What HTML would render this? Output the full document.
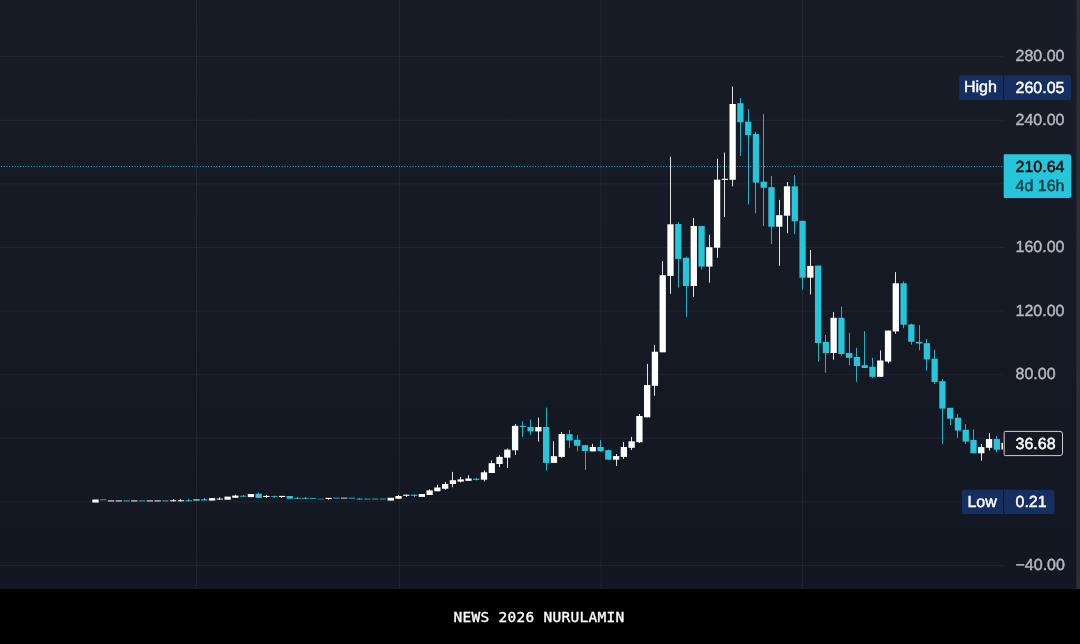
<!DOCTYPE html>
<html><head><meta charset="utf-8"><title>chart</title>
<style>
html,body{margin:0;padding:0;background:#171b26;}
body{width:1080px;height:644px;overflow:hidden;position:relative;font-family:"Liberation Sans",sans-serif;}
svg{position:absolute;left:0;top:0;display:block}
text{font-family:"Liberation Sans",sans-serif;font-size:16px;text-rendering:geometricPrecision;stroke-width:0.45px;stroke-linejoin:round}
.ax{fill:#b4b7c0;stroke:#b4b7c0}
.wh{fill:#ffffff;stroke:#ffffff}
.bar{position:absolute;left:0;top:589px;width:1080px;height:55px;background:#000;}
.cap{position:absolute;left:-1px;top:607px;width:1080px;text-align:center;color:#fff;font-family:"DejaVu Sans Mono","Liberation Mono",monospace;font-size:14.5px;line-height:20px;white-space:pre;letter-spacing:0.27px;-webkit-text-stroke:0.35px #fff;}
</style></head><body>
<svg width="1080" height="589" viewBox="0 0 1080 589">
<defs><linearGradient id="bgg" x1="0" y1="0" x2="0" y2="1"><stop offset="0" stop-color="#181c27"/><stop offset="1" stop-color="#131722"/></linearGradient>
<clipPath id="cp"><rect x="0" y="0" width="1002.9" height="589"/></clipPath></defs>
<rect x="0" y="0" width="1080" height="589" fill="url(#bgg)"/>
<rect x="0" y="56.10" width="1003.5" height="1" fill="rgba(240,243,250,0.06)"/><rect x="0" y="119.71" width="1003.5" height="1" fill="rgba(240,243,250,0.06)"/><rect x="0" y="183.32" width="1003.5" height="1" fill="rgba(240,243,250,0.06)"/><rect x="0" y="246.93" width="1003.5" height="1" fill="rgba(240,243,250,0.06)"/><rect x="0" y="310.54" width="1003.5" height="1" fill="rgba(240,243,250,0.06)"/><rect x="0" y="374.15" width="1003.5" height="1" fill="rgba(240,243,250,0.06)"/><rect x="0" y="437.76" width="1003.5" height="1" fill="rgba(240,243,250,0.06)"/><rect x="0" y="501.37" width="1003.5" height="1" fill="rgba(240,243,250,0.06)"/><rect x="0" y="564.98" width="1003.5" height="1" fill="rgba(240,243,250,0.06)"/><rect x="196.00" y="0" width="1" height="589" fill="rgba(240,243,250,0.06)"/><rect x="398.95" y="0" width="1" height="589" fill="rgba(240,243,250,0.06)"/><rect x="600.35" y="0" width="1" height="589" fill="rgba(240,243,250,0.06)"/><rect x="802.00" y="0" width="1" height="589" fill="rgba(240,243,250,0.06)"/>
<g clip-path="url(#cp)">
<line x1="1.05" y1="166.56" x2="1002.4" y2="166.56" stroke="#27bed2" stroke-width="1" stroke-dasharray="0.95 1.775"/>
<rect x="92.35" y="499.50" width="6.3" height="3.00" fill="#ffffff"/>
<rect x="100.12" y="499.00" width="6.3" height="1.40" fill="#26c6da" fill-opacity="0.6"/>
<rect x="107.89" y="500.20" width="6.3" height="1.40" fill="#ffffff" fill-opacity="0.7"/>
<rect x="115.66" y="500.20" width="6.3" height="1.40" fill="#ffffff" fill-opacity="0.7"/>
<rect x="123.43" y="500.20" width="6.3" height="1.40" fill="#26c6da" fill-opacity="0.65"/>
<rect x="131.20" y="500.20" width="6.3" height="1.40" fill="#ffffff" fill-opacity="0.7"/>
<rect x="138.97" y="500.20" width="6.3" height="1.40" fill="#26c6da" fill-opacity="0.65"/>
<rect x="146.74" y="500.20" width="6.3" height="1.40" fill="#ffffff" fill-opacity="0.7"/>
<rect x="154.51" y="500.20" width="6.3" height="1.40" fill="#ffffff" fill-opacity="0.7"/>
<rect x="162.28" y="500.20" width="6.3" height="1.40" fill="#26c6da" fill-opacity="0.65"/>
<rect x="173" y="499.20" width="1.0" height="2.20" fill="#ffffff" fill-opacity="0.88"/>
<rect x="170.05" y="500.00" width="6.3" height="1.40" fill="#ffffff" fill-opacity="0.72"/>
<rect x="180" y="499.20" width="1.0" height="2.20" fill="#ffffff" fill-opacity="0.88"/>
<rect x="177.82" y="500.00" width="6.3" height="1.40" fill="#ffffff" fill-opacity="0.72"/>
<rect x="188" y="498.80" width="1.0" height="2.60" fill="#26c6da" fill-opacity="0.88"/>
<rect x="185.59" y="500.00" width="6.3" height="1.40" fill="#26c6da" fill-opacity="0.7"/>
<rect x="193.36" y="499.20" width="6.3" height="1.50" fill="#ffffff" fill-opacity="0.7"/>
<rect x="204" y="498.00" width="1.0" height="2.60" fill="#26c6da" fill-opacity="0.88"/>
<rect x="201.13" y="499.00" width="6.3" height="1.60" fill="#26c6da" fill-opacity="0.75"/>
<rect x="208.90" y="498.10" width="6.3" height="2.50" fill="#ffffff"/>
<rect x="219" y="497.50" width="1.0" height="2.50" fill="#ffffff" fill-opacity="0.88"/>
<rect x="216.67" y="498.40" width="6.3" height="1.30" fill="#ffffff" fill-opacity="0.72"/>
<rect x="224.44" y="496.60" width="6.3" height="3.15" fill="#ffffff"/>
<rect x="235" y="494.75" width="1.0" height="3.00" fill="#ffffff" fill-opacity="0.88"/>
<rect x="232.21" y="495.60" width="6.3" height="2.15" fill="#ffffff"/>
<rect x="243" y="495.00" width="1.0" height="1.80" fill="#26c6da" fill-opacity="0.88"/>
<rect x="239.98" y="495.70" width="6.3" height="1.10" fill="#26c6da" fill-opacity="0.8"/>
<rect x="247.75" y="494.00" width="6.3" height="3.10" fill="#ffffff"/>
<rect x="258" y="492.50" width="1.0" height="5.40" fill="#26c6da" fill-opacity="0.88"/>
<rect x="255.52" y="493.75" width="6.3" height="4.15" fill="#26c6da"/>
<rect x="266" y="495.00" width="1.0" height="3.00" fill="#ffffff" fill-opacity="0.88"/>
<rect x="263.29" y="495.90" width="6.3" height="1.10" fill="#ffffff"/>
<rect x="274" y="495.90" width="1.0" height="1.80" fill="#26c6da" fill-opacity="0.88"/>
<rect x="271.06" y="495.90" width="6.3" height="1.10" fill="#26c6da" fill-opacity="0.8"/>
<rect x="281" y="495.90" width="1.0" height="2.10" fill="#ffffff" fill-opacity="0.88"/>
<rect x="278.83" y="495.90" width="6.3" height="1.10" fill="#ffffff"/>
<rect x="286.60" y="496.00" width="6.3" height="2.75" fill="#26c6da"/>
<rect x="297" y="497.00" width="1.0" height="2.00" fill="#26c6da" fill-opacity="0.88"/>
<rect x="294.37" y="497.90" width="6.3" height="1.10" fill="#26c6da" fill-opacity="0.75"/>
<rect x="305" y="497.00" width="1.0" height="2.00" fill="#26c6da" fill-opacity="0.88"/>
<rect x="302.14" y="497.90" width="6.3" height="1.10" fill="#26c6da" fill-opacity="0.75"/>
<rect x="309.91" y="497.90" width="6.3" height="1.10" fill="#26c6da" fill-opacity="0.75"/>
<rect x="317.68" y="498.60" width="6.3" height="1.00" fill="#26c6da" fill-opacity="0.55"/>
<rect x="328" y="497.90" width="1.0" height="1.80" fill="#ffffff" fill-opacity="0.88"/>
<rect x="325.45" y="497.90" width="6.3" height="1.10" fill="#ffffff"/>
<rect x="333.22" y="497.60" width="6.3" height="1.10" fill="#26c6da" fill-opacity="0.8"/>
<rect x="340.99" y="497.60" width="6.3" height="1.10" fill="#ffffff" fill-opacity="0.75"/>
<rect x="348.76" y="497.60" width="6.3" height="1.10" fill="#26c6da" fill-opacity="0.8"/>
<rect x="359" y="498.00" width="1.0" height="1.60" fill="#26c6da" fill-opacity="0.88"/>
<rect x="356.53" y="498.50" width="6.3" height="1.10" fill="#26c6da" fill-opacity="0.75"/>
<rect x="364.30" y="498.50" width="6.3" height="1.10" fill="#26c6da" fill-opacity="0.75"/>
<rect x="372.07" y="498.50" width="6.3" height="1.10" fill="#26c6da" fill-opacity="0.75"/>
<rect x="379.84" y="498.50" width="6.3" height="1.10" fill="#26c6da" fill-opacity="0.75"/>
<rect x="387.61" y="497.75" width="6.3" height="2.85" fill="#ffffff"/>
<rect x="398" y="495.00" width="1.0" height="3.75" fill="#ffffff" fill-opacity="0.88"/>
<rect x="395.38" y="496.00" width="6.3" height="2.75" fill="#ffffff"/>
<rect x="406" y="494.70" width="1.0" height="2.30" fill="#ffffff" fill-opacity="0.88"/>
<rect x="403.15" y="494.70" width="6.3" height="1.10" fill="#ffffff"/>
<rect x="414" y="494.70" width="1.0" height="2.30" fill="#26c6da" fill-opacity="0.88"/>
<rect x="410.92" y="494.70" width="6.3" height="1.10" fill="#26c6da"/>
<rect x="418.69" y="494.00" width="6.3" height="2.90" fill="#ffffff"/>
<rect x="429" y="489.40" width="1.0" height="5.60" fill="#ffffff" fill-opacity="0.88"/>
<rect x="426.46" y="490.40" width="6.3" height="4.60" fill="#ffffff"/>
<rect x="437" y="484.75" width="1.0" height="6.50" fill="#ffffff" fill-opacity="0.88"/>
<rect x="434.23" y="487.50" width="6.3" height="3.75" fill="#ffffff"/>
<rect x="445" y="481.90" width="1.0" height="7.85" fill="#ffffff" fill-opacity="0.88"/>
<rect x="442.00" y="484.00" width="6.3" height="4.75" fill="#ffffff"/>
<rect x="452" y="471.90" width="1.0" height="15.35" fill="#ffffff" fill-opacity="0.88"/>
<rect x="449.77" y="480.25" width="6.3" height="3.75" fill="#ffffff"/>
<rect x="460" y="476.90" width="1.0" height="5.60" fill="#ffffff" fill-opacity="0.88"/>
<rect x="457.54" y="479.40" width="6.3" height="2.20" fill="#ffffff"/>
<rect x="468" y="475.20" width="1.0" height="5.60" fill="#ffffff" fill-opacity="0.88"/>
<rect x="465.31" y="478.50" width="6.3" height="2.30" fill="#ffffff"/>
<rect x="476" y="478.00" width="1.0" height="2.50" fill="#26c6da" fill-opacity="0.88"/>
<rect x="473.08" y="478.70" width="6.3" height="1.10" fill="#26c6da"/>
<rect x="484" y="470.30" width="1.0" height="11.20" fill="#ffffff" fill-opacity="0.88"/>
<rect x="480.85" y="472.30" width="6.3" height="7.40" fill="#ffffff"/>
<rect x="491" y="460.40" width="1.0" height="12.60" fill="#ffffff" fill-opacity="0.88"/>
<rect x="488.62" y="463.20" width="6.3" height="9.80" fill="#ffffff"/>
<rect x="499" y="455.20" width="1.0" height="11.90" fill="#ffffff" fill-opacity="0.88"/>
<rect x="496.39" y="456.90" width="6.3" height="7.10" fill="#ffffff"/>
<rect x="507" y="448.50" width="1.0" height="19.50" fill="#ffffff" fill-opacity="0.88"/>
<rect x="504.16" y="449.60" width="6.3" height="8.10" fill="#ffffff"/>
<rect x="515" y="424.00" width="1.0" height="30.90" fill="#ffffff" fill-opacity="0.88"/>
<rect x="511.93" y="425.90" width="6.3" height="24.40" fill="#ffffff"/>
<rect x="522" y="421.20" width="1.0" height="15.80" fill="#26c6da" fill-opacity="0.88"/>
<rect x="519.70" y="425.80" width="6.3" height="1.10" fill="#26c6da"/>
<rect x="530" y="419.60" width="1.0" height="15.40" fill="#26c6da" fill-opacity="0.88"/>
<rect x="527.47" y="427.00" width="6.3" height="4.40" fill="#26c6da"/>
<rect x="538" y="417.70" width="1.0" height="23.90" fill="#ffffff" fill-opacity="0.88"/>
<rect x="535.24" y="427.00" width="6.3" height="4.40" fill="#ffffff"/>
<rect x="546" y="407.70" width="1.0" height="62.90" fill="#26c6da" fill-opacity="0.88"/>
<rect x="543.01" y="427.00" width="6.3" height="35.90" fill="#26c6da"/>
<rect x="553" y="441.20" width="1.0" height="21.70" fill="#ffffff" fill-opacity="0.88"/>
<rect x="550.78" y="456.20" width="6.3" height="6.70" fill="#ffffff"/>
<rect x="561" y="432.10" width="1.0" height="25.60" fill="#ffffff" fill-opacity="0.88"/>
<rect x="558.55" y="434.00" width="6.3" height="22.90" fill="#ffffff"/>
<rect x="569" y="430.00" width="1.0" height="17.80" fill="#26c6da" fill-opacity="0.88"/>
<rect x="566.32" y="434.20" width="6.3" height="6.30" fill="#26c6da"/>
<rect x="577" y="435.00" width="1.0" height="16.40" fill="#26c6da" fill-opacity="0.88"/>
<rect x="574.09" y="439.80" width="6.3" height="6.00" fill="#26c6da"/>
<rect x="585" y="445.10" width="1.0" height="24.80" fill="#26c6da" fill-opacity="0.88"/>
<rect x="581.86" y="445.10" width="6.3" height="5.90" fill="#26c6da"/>
<rect x="592" y="443.80" width="1.0" height="7.60" fill="#ffffff" fill-opacity="0.88"/>
<rect x="589.63" y="447.00" width="6.3" height="4.40" fill="#ffffff"/>
<rect x="600" y="440.10" width="1.0" height="11.90" fill="#26c6da" fill-opacity="0.88"/>
<rect x="597.40" y="447.00" width="6.3" height="4.20" fill="#26c6da"/>
<rect x="608" y="449.50" width="1.0" height="10.20" fill="#26c6da" fill-opacity="0.88"/>
<rect x="605.17" y="450.20" width="6.3" height="9.50" fill="#26c6da"/>
<rect x="616" y="454.00" width="1.0" height="11.90" fill="#ffffff" fill-opacity="0.88"/>
<rect x="612.94" y="456.10" width="6.3" height="3.60" fill="#ffffff"/>
<rect x="623" y="442.00" width="1.0" height="16.90" fill="#ffffff" fill-opacity="0.88"/>
<rect x="620.71" y="447.00" width="6.3" height="9.90" fill="#ffffff"/>
<rect x="631" y="436.90" width="1.0" height="13.00" fill="#ffffff" fill-opacity="0.88"/>
<rect x="628.48" y="441.30" width="6.3" height="6.50" fill="#ffffff"/>
<rect x="639" y="414.00" width="1.0" height="29.00" fill="#ffffff" fill-opacity="0.88"/>
<rect x="636.25" y="416.00" width="6.3" height="26.20" fill="#ffffff"/>
<rect x="647" y="363.90" width="1.0" height="53.40" fill="#ffffff" fill-opacity="0.88"/>
<rect x="644.02" y="385.00" width="6.3" height="32.30" fill="#ffffff"/>
<rect x="654" y="345.00" width="1.0" height="50.70" fill="#ffffff" fill-opacity="0.88"/>
<rect x="651.79" y="351.70" width="6.3" height="34.10" fill="#ffffff"/>
<rect x="662" y="261.20" width="1.0" height="91.10" fill="#ffffff" fill-opacity="0.88"/>
<rect x="659.56" y="275.20" width="6.3" height="77.10" fill="#ffffff"/>
<rect x="670" y="156.80" width="1.0" height="137.00" fill="#ffffff" fill-opacity="0.88"/>
<rect x="667.33" y="224.30" width="6.3" height="51.70" fill="#ffffff"/>
<rect x="678" y="222.10" width="1.0" height="65.50" fill="#26c6da" fill-opacity="0.88"/>
<rect x="675.10" y="224.00" width="6.3" height="34.90" fill="#26c6da"/>
<rect x="686" y="256.60" width="1.0" height="60.20" fill="#26c6da" fill-opacity="0.88"/>
<rect x="682.87" y="257.80" width="6.3" height="28.20" fill="#26c6da"/>
<rect x="693" y="218.00" width="1.0" height="78.90" fill="#ffffff" fill-opacity="0.88"/>
<rect x="690.64" y="226.00" width="6.3" height="60.00" fill="#ffffff"/>
<rect x="701" y="226.00" width="1.0" height="43.70" fill="#26c6da" fill-opacity="0.88"/>
<rect x="698.41" y="226.00" width="6.3" height="40.60" fill="#26c6da"/>
<rect x="709" y="234.80" width="1.0" height="47.80" fill="#ffffff" fill-opacity="0.88"/>
<rect x="706.18" y="247.20" width="6.3" height="19.40" fill="#ffffff"/>
<rect x="717" y="158.70" width="1.0" height="99.10" fill="#ffffff" fill-opacity="0.88"/>
<rect x="713.95" y="179.70" width="6.3" height="68.00" fill="#ffffff"/>
<rect x="724" y="152.50" width="1.0" height="64.40" fill="#ffffff" fill-opacity="0.88"/>
<rect x="721.72" y="178.80" width="6.3" height="1.10" fill="#ffffff"/>
<rect x="732" y="86.60" width="1.0" height="99.70" fill="#ffffff" fill-opacity="0.88"/>
<rect x="729.49" y="104.00" width="6.3" height="75.80" fill="#ffffff"/>
<rect x="740" y="98.00" width="1.0" height="58.00" fill="#26c6da" fill-opacity="0.88"/>
<rect x="737.26" y="103.20" width="6.3" height="19.10" fill="#26c6da"/>
<rect x="748" y="109.10" width="1.0" height="95.30" fill="#26c6da" fill-opacity="0.88"/>
<rect x="745.03" y="121.60" width="6.3" height="13.60" fill="#26c6da"/>
<rect x="755" y="131.60" width="1.0" height="81.70" fill="#26c6da" fill-opacity="0.88"/>
<rect x="752.80" y="134.00" width="6.3" height="48.60" fill="#26c6da"/>
<rect x="763" y="114.10" width="1.0" height="111.90" fill="#26c6da" fill-opacity="0.88"/>
<rect x="760.57" y="181.70" width="6.3" height="6.10" fill="#26c6da"/>
<rect x="771" y="176.10" width="1.0" height="67.90" fill="#26c6da" fill-opacity="0.88"/>
<rect x="768.34" y="187.20" width="6.3" height="39.50" fill="#26c6da"/>
<rect x="779" y="199.90" width="1.0" height="65.90" fill="#ffffff" fill-opacity="0.88"/>
<rect x="776.11" y="215.20" width="6.3" height="11.50" fill="#ffffff"/>
<rect x="787" y="182.00" width="1.0" height="51.20" fill="#ffffff" fill-opacity="0.88"/>
<rect x="783.88" y="186.30" width="6.3" height="29.40" fill="#ffffff"/>
<rect x="794" y="175.10" width="1.0" height="59.10" fill="#26c6da" fill-opacity="0.88"/>
<rect x="791.65" y="186.30" width="6.3" height="35.00" fill="#26c6da"/>
<rect x="802" y="220.80" width="1.0" height="68.90" fill="#26c6da" fill-opacity="0.88"/>
<rect x="799.42" y="220.80" width="6.3" height="56.90" fill="#26c6da"/>
<rect x="810" y="250.10" width="1.0" height="44.20" fill="#ffffff" fill-opacity="0.88"/>
<rect x="807.19" y="265.90" width="6.3" height="11.80" fill="#ffffff"/>
<rect x="818" y="265.60" width="1.0" height="96.00" fill="#26c6da" fill-opacity="0.88"/>
<rect x="814.96" y="265.60" width="6.3" height="77.40" fill="#26c6da"/>
<rect x="825" y="334.90" width="1.0" height="37.70" fill="#26c6da" fill-opacity="0.88"/>
<rect x="822.73" y="341.90" width="6.3" height="11.10" fill="#26c6da"/>
<rect x="833" y="312.10" width="1.0" height="47.60" fill="#ffffff" fill-opacity="0.88"/>
<rect x="830.50" y="317.80" width="6.3" height="35.20" fill="#ffffff"/>
<rect x="841" y="306.70" width="1.0" height="49.20" fill="#26c6da" fill-opacity="0.88"/>
<rect x="838.27" y="317.80" width="6.3" height="36.20" fill="#26c6da"/>
<rect x="849" y="332.90" width="1.0" height="32.30" fill="#26c6da" fill-opacity="0.88"/>
<rect x="846.04" y="353.00" width="6.3" height="4.90" fill="#26c6da"/>
<rect x="856" y="347.80" width="1.0" height="34.00" fill="#26c6da" fill-opacity="0.88"/>
<rect x="853.81" y="357.00" width="6.3" height="9.00" fill="#26c6da"/>
<rect x="864" y="331.00" width="1.0" height="37.00" fill="#26c6da" fill-opacity="0.88"/>
<rect x="861.58" y="365.20" width="6.3" height="2.80" fill="#26c6da"/>
<rect x="872" y="357.70" width="1.0" height="20.20" fill="#26c6da" fill-opacity="0.88"/>
<rect x="869.35" y="366.70" width="6.3" height="10.10" fill="#26c6da"/>
<rect x="880" y="350.40" width="1.0" height="26.40" fill="#ffffff" fill-opacity="0.88"/>
<rect x="877.12" y="360.50" width="6.3" height="16.30" fill="#ffffff"/>
<rect x="888" y="330.60" width="1.0" height="32.70" fill="#ffffff" fill-opacity="0.88"/>
<rect x="884.89" y="330.60" width="6.3" height="31.00" fill="#ffffff"/>
<rect x="895" y="272.10" width="1.0" height="61.60" fill="#ffffff" fill-opacity="0.88"/>
<rect x="892.66" y="283.30" width="6.3" height="48.10" fill="#ffffff"/>
<rect x="903" y="281.40" width="1.0" height="46.90" fill="#26c6da" fill-opacity="0.88"/>
<rect x="900.43" y="283.30" width="6.3" height="41.40" fill="#26c6da"/>
<rect x="911" y="323.50" width="1.0" height="21.10" fill="#26c6da" fill-opacity="0.88"/>
<rect x="908.20" y="324.40" width="6.3" height="17.40" fill="#26c6da"/>
<rect x="919" y="325.20" width="1.0" height="25.10" fill="#26c6da" fill-opacity="0.88"/>
<rect x="915.97" y="341.80" width="6.3" height="1.70" fill="#26c6da"/>
<rect x="926" y="338.90" width="1.0" height="31.80" fill="#26c6da" fill-opacity="0.88"/>
<rect x="923.74" y="343.20" width="6.3" height="16.30" fill="#26c6da"/>
<rect x="934" y="349.70" width="1.0" height="34.20" fill="#26c6da" fill-opacity="0.88"/>
<rect x="931.51" y="358.70" width="6.3" height="23.30" fill="#26c6da"/>
<rect x="942" y="378.90" width="1.0" height="65.10" fill="#26c6da" fill-opacity="0.88"/>
<rect x="939.28" y="381.20" width="6.3" height="27.40" fill="#26c6da"/>
<rect x="950" y="407.80" width="1.0" height="17.20" fill="#26c6da" fill-opacity="0.88"/>
<rect x="947.05" y="407.80" width="6.3" height="10.90" fill="#26c6da"/>
<rect x="957" y="414.10" width="1.0" height="23.60" fill="#26c6da" fill-opacity="0.88"/>
<rect x="954.82" y="417.80" width="6.3" height="12.80" fill="#26c6da"/>
<rect x="965" y="424.10" width="1.0" height="19.90" fill="#26c6da" fill-opacity="0.88"/>
<rect x="962.59" y="429.80" width="6.3" height="11.80" fill="#26c6da"/>
<rect x="973" y="429.30" width="1.0" height="24.00" fill="#26c6da" fill-opacity="0.88"/>
<rect x="970.36" y="439.90" width="6.3" height="13.40" fill="#26c6da"/>
<rect x="981" y="444.00" width="1.0" height="16.70" fill="#ffffff" fill-opacity="0.88"/>
<rect x="978.13" y="447.10" width="6.3" height="6.20" fill="#ffffff"/>
<rect x="989" y="433.20" width="1.0" height="17.30" fill="#ffffff" fill-opacity="0.88"/>
<rect x="985.90" y="439.10" width="6.3" height="8.70" fill="#ffffff"/>
<rect x="996" y="435.90" width="1.0" height="16.30" fill="#26c6da" fill-opacity="0.88"/>
<rect x="993.67" y="439.10" width="6.3" height="10.60" fill="#26c6da"/>
<rect x="1001.44" y="442.90" width="6.3" height="6.60" fill="#ffffff"/>
</g>
<rect x="1076.3" y="0" width="3.7" height="589" fill="#2e2e2e"/>
<text x="1015.5" y="61.30" class="ax">280.00</text><text x="1015.5" y="124.91" class="ax">240.00</text><text x="1015.5" y="252.13" class="ax">160.00</text><text x="1015.5" y="315.74" class="ax">120.00</text><text x="1015.5" y="379.35" class="ax">80.00</text><text x="1015.5" y="570.18" class="ax">−40.00</text>
<path d="M961.7 75.2H1003V99.9H961.7a2.5 2.5 0 0 1-2.5-2.5V77.7a2.5 2.5 0 0 1 2.5-2.5z" fill="#152f60"/>
<path d="M1004.1 75.2H1068.6a2.5 2.5 0 0 1 2.5 2.5V97.4a2.5 2.5 0 0 1-2.5 2.5H1004.1z" fill="#152f60"/>
<text x="964" y="91.7" class="wh">High</text>
<text x="1015.5" y="93.2" class="wh">260.05</text>
<path d="M1004.7 154.3H1068.8a2.5 2.5 0 0 1 2.5 2.5V195.5a2.5 2.5 0 0 1-2.5 2.5H1004.7a1 1 0 0 1-1-1V155.3a1 1 0 0 1 1-1z" fill="#26c6da"/>
<text x="1015.5" y="172.2" fill="#000" stroke="#000">210.64</text>
<text x="1015.5" y="191.2" fill="#0b3c44" stroke="#0b3c44">4d 16h</text>
<path d="M1005.2 431.4H1060a2.5 2.5 0 0 1 2.5 2.5V453.1a2.5 2.5 0 0 1-2.5 2.5H1005.2a1 1 0 0 1-1-1V432.4a1 1 0 0 1 1-1z" fill="none" stroke="#cfcfd3" stroke-width="1"/>
<text x="1015.5" y="449.35" class="wh">36.68</text>
<path d="M964.4 489.7H1003V513.9H964.4a2.5 2.5 0 0 1-2.5-2.5V492.2a2.5 2.5 0 0 1 2.5-2.5z" fill="#152f60"/>
<path d="M1004.1 489.7H1051.9a2.5 2.5 0 0 1 2.5 2.5V511.4a2.5 2.5 0 0 1-2.5 2.5H1004.1z" fill="#152f60"/>
<text x="967.4" y="507.4" class="wh">Low</text>
<text x="1015.5" y="507.4" class="wh">0.21</text>
</svg>
<div class="bar"></div>
<div class="cap">NEWS 2026 NURULAMIN</div>
</body></html>
